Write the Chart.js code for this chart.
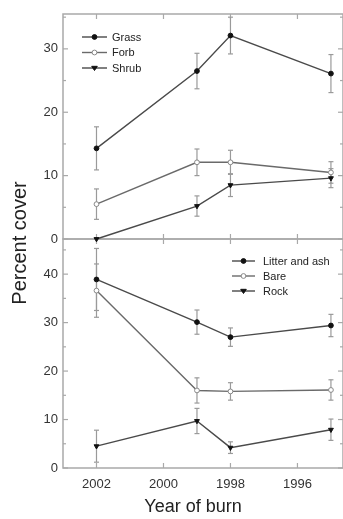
<!DOCTYPE html>
<html><head><meta charset="utf-8">
<script src="https://cdn.jsdelivr.net/npm/chart.js@4.4.0/dist/chart.umd.min.js"></script>
<style>
html,body{margin:0;padding:0;background:#fff;overflow:hidden}
#wrap{position:relative;width:343px;height:519px}
canvas{position:absolute;left:0;top:0}
</style></head>
<body>
<div id="wrap"><canvas id="bot" width="343" height="519"></canvas><canvas id="top" width="343" height="519"></canvas></div>
<script>
// ---- data ----
const years = [2002, 1999, 1998, 1995];
const xTickLabels = [2002, 2000, 1998, 1996];
const topYTicks = [0, 10, 20, 30];
const botYTicks = [0, 10, 20, 30, 40];
const topMinorTicks = [5, 15, 25, 35];
const botMinorTicks = [5, 15, 25, 35, 45];

const grass = [14.3, 26.5, 32.1, 26.1];
const grassErr = [3.4, 2.8, 2.9, 3.0];
const forb = [5.5, 12.1, 12.1, 10.5];
const forbErr = [2.4, 2.1, 1.9, 1.7];
const shrub = [0, 5.2, 8.5, 9.6];
const shrubErr = [0, 1.6, 1.8, 1.5];

const litter = [38.9, 30.1, 27.0, 29.4];
const litterErr = [6.4, 2.5, 1.9, 2.3];
const bare = [36.6, 16.0, 15.8, 16.1];
const bareErr = [5.5, 2.6, 1.8, 2.1];
const rock = [4.5, 9.7, 4.2, 7.9];
const rockErr = [3.3, 2.6, 1.2, 2.2];

const topLabels = ['Grass', 'Forb', 'Shrub'];
const botLabels = ['Litter and ash', 'Bare', 'Rock'];

// ---- styling ----
Chart.defaults.font.family = "'Liberation Sans', Arial, sans-serif";
Chart.defaults.color = '#333';
const FRAME = '#a9a9a9';
const ERRC = '#9a9a9a';

const styles = [
  {line: '#4a4a4a', ps: 'circle', fill: '#111', stroke: '#111', r: 2.4, rot: 0},
  {line: '#6a6a6a', ps: 'circle', fill: '#fff', stroke: '#888', r: 2.4, rot: 0},
  {line: '#4a4a4a', ps: 'triangle', fill: '#111', stroke: '#111', r: 2.8, rot: 180}
];

function pts(vals) { return years.map((y, i) => ({x: y, y: vals[i]})); }

function mkDs(label, vals, k) {
  const s = styles[k];
  return {
    label, data: pts(vals), borderColor: s.line, borderWidth: 1.4,
    pointStyle: s.ps, pointRadius: s.r, pointRotation: s.rot,
    pointBackgroundColor: s.fill, pointBorderColor: s.stroke, pointBorderWidth: 1,
    tension: 0, clip: false
  };
}

function drawMarker(ctx, s, x, y) {
  ctx.save();
  ctx.fillStyle = s.fill; ctx.strokeStyle = s.stroke; ctx.lineWidth = 1;
  ctx.beginPath();
  if (s.ps === 'circle') {
    ctx.arc(x, y, s.r, 0, Math.PI * 2);
  } else {
    const r = s.r;
    ctx.moveTo(x - r, y - r * 0.6); ctx.lineTo(x + r, y - r * 0.6); ctx.lineTo(x, y + r * 0.9); ctx.closePath();
  }
  ctx.fill(); ctx.stroke();
  ctx.restore();
}

function makePlugin(cfg) {
  return {
    id: 'custom_' + cfg.name,
    beforeDatasetsDraw(chart) {
      const {ctx, chartArea: a, scales: {x, y}} = chart;
      ctx.save();
      // frame
      ctx.strokeStyle = FRAME; ctx.lineWidth = 1.5;
      ctx.strokeRect(a.left, a.top, a.right - a.left, a.bottom - a.top);
      ctx.lineWidth = 1.2;
      const ln = (x1, y1, x2, y2) => { ctx.beginPath(); ctx.moveTo(x1, y1); ctx.lineTo(x2, y2); ctx.stroke(); };
      xTickLabels.forEach(v => {
        const px = x.getPixelForValue(v);
        ln(px, a.top, px, a.top + 5);
        ln(px, a.bottom, px, a.bottom - 5);
      });
      cfg.yTicks.forEach(v => { const py = y.getPixelForValue(v); ln(a.left, py, a.left + 5, py); ln(a.right, py, a.right - 5, py); });
      cfg.minor.forEach(v => { const py = y.getPixelForValue(v); ln(a.left, py, a.left + 3, py); ln(a.right, py, a.right - 3, py); });
      // error bars
      ctx.strokeStyle = ERRC; ctx.lineWidth = 1.2;
      cfg.errs.forEach((err, d) => {
        const vals = cfg.vals[d];
        err.forEach((e, i) => {
          if (!e) return;
          const px = x.getPixelForValue(years[i]);
          const y1 = y.getPixelForValue(vals[i] + e);
          const y2 = y.getPixelForValue(Math.max(vals[i] - e, 0));
          ln(px, y1, px, y2);
          ln(px - 2.5, y1, px + 2.5, y1);
          ln(px - 2.5, y2, px + 2.5, y2);
        });
      });
      ctx.restore();
    },
    afterDraw(chart) {
      const {ctx} = chart;
      ctx.save();
      const L = cfg.legend;
      cfg.labels.forEach((lab, k) => {
        const yy = L.rows[k];
        const s = styles[k];
        ctx.strokeStyle = s.line; ctx.lineWidth = 1.4;
        ctx.beginPath(); ctx.moveTo(L.x0, yy); ctx.lineTo(L.x1, yy); ctx.stroke();
        drawMarker(ctx, s, (L.x0 + L.x1) / 2, yy);
        ctx.fillStyle = '#222';
        ctx.font = "11px 'Liberation Sans', Arial, sans-serif";
        ctx.textBaseline = 'middle'; ctx.textAlign = 'left';
        ctx.fillText(lab, L.tx, yy + 0.5);
      });
      if (cfg.title) {
        const t = cfg.title;
        ctx.fillStyle = '#222';
        ctx.font = t.size + "px 'Liberation Sans', Arial, sans-serif";
        ctx.textAlign = 'center'; ctx.textBaseline = 'middle';
        ctx.translate(t.x, t.y); ctx.rotate(t.rot);
        ctx.fillText(t.text, 0, 0);
      }
      ctx.restore();
    }
  };
}

const X_MIN = 1994.64, X_MAX = 2003;

function yAxis(max, ticksArr) {
  return {
    type: 'linear', min: 0, max: max,
    afterFit(s) { s.width = 63; },
    afterBuildTicks(s) { s.ticks = ticksArr.map(v => ({value: v})); },
    grid: {display: false, drawTicks: false},
    border: {display: false},
    ticks: {padding: 5, color: '#333', font: {size: 13}, callback: v => String(v)}
  };
}

// top panel
new Chart(document.getElementById('top'), {
  type: 'line',
  data: {datasets: [mkDs(topLabels[0], grass, 0), mkDs(topLabels[1], forb, 1), mkDs(topLabels[2], shrub, 2)]},
  options: {
    responsive: false, animation: false, devicePixelRatio: 1,
    layout: {autoPadding: false, padding: {top: 14, bottom: 280, left: 0, right: 0}},
    plugins: {legend: {display: false}, tooltip: {enabled: false}},
    scales: {
      x: {type: 'linear', reverse: true, min: X_MIN, max: X_MAX, display: false},
      y: yAxis(35.5, topYTicks)
    }
  },
  plugins: [makePlugin({
    name: 'top', yTicks: topYTicks, minor: topMinorTicks,
    errs: [grassErr, forbErr, shrubErr], vals: [grass, forb, shrub],
    labels: topLabels,
    legend: {x0: 82, x1: 107, tx: 112, rows: [37, 52.5, 68]},
    title: {text: 'Percent cover', x: 20, y: 243, rot: -Math.PI / 2, size: 20}
  })]
});

// bottom panel
new Chart(document.getElementById('bot'), {
  type: 'line',
  data: {datasets: [mkDs(botLabels[0], litter, 0), mkDs(botLabels[1], bare, 1), mkDs(botLabels[2], rock, 2)]},
  options: {
    responsive: false, animation: false, devicePixelRatio: 1,
    layout: {autoPadding: false, padding: {top: 239, bottom: 0, left: 0, right: 0}},
    plugins: {legend: {display: false}, tooltip: {enabled: false}},
    scales: {
      x: {
        type: 'linear', reverse: true, min: X_MIN, max: X_MAX,
        afterFit(s) { s.height = 51; },
        afterBuildTicks(s) { s.ticks = xTickLabels.map(v => ({value: v})); },
        grid: {display: false, drawTicks: false},
        border: {display: false},
        ticks: {padding: 9, color: '#333', font: {size: 13}, maxRotation: 0, autoSkip: false, callback: v => String(v)}
      },
      y: yAxis(47.25, botYTicks)
    }
  },
  plugins: [makePlugin({
    name: 'bot', yTicks: botYTicks, minor: botMinorTicks,
    errs: [litterErr, bareErr, rockErr], vals: [litter, bare, rock],
    labels: botLabels,
    legend: {x0: 232, x1: 255, tx: 263, rows: [261, 276, 291]},
    title: {text: 'Year of burn', x: 193, y: 507, rot: 0, size: 18}
  })]
});
</script>
</body></html>
